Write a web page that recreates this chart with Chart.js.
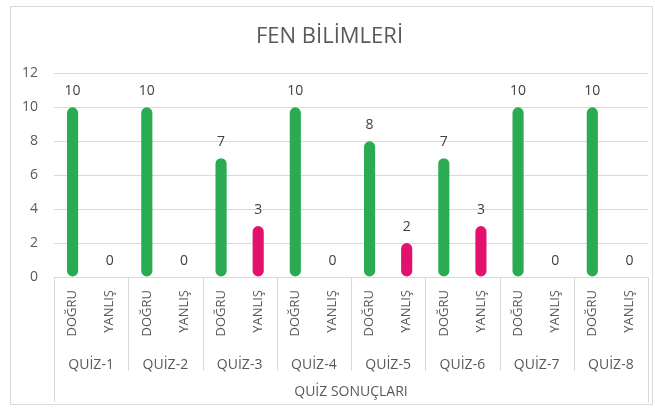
<!DOCTYPE html>
<html>
<head>
<meta charset="utf-8">
<script src="https://cdn.jsdelivr.net/npm/chart.js@4.4.1/dist/chart.umd.min.js"></script>
<style>
  html, body { margin: 0; padding: 0; background: #fff; }
  #wrap {
    position: absolute; left: 10px; top: 6px;
    width: 641px; height: 397px;
    border: 1px solid #d9d9d9;
  }
</style>
</head>
<body>
<div id="wrap"><canvas id="chart"></canvas></div>
<script>
// --- veriler ---
const quizzes = ['QUİZ-1', 'QUİZ-2', 'QUİZ-3', 'QUİZ-4', 'QUİZ-5', 'QUİZ-6', 'QUİZ-7', 'QUİZ-8'];
const answerTypes = ['DOĞRU', 'YANLIŞ'];
const dogru = [10, 10, 7, 10, 8, 7, 10, 10];
const yanlis = [0, 0, 3, 0, 2, 3, 0, 0];
const yTicks = [0, 2, 4, 6, 8, 10, 12];

const GREEN = '#2aab52';
const PINK = '#e3106d';
const TXT = '#595959';
const GRID = '#d9d9d9';
const FONT = 'Open Sans';

// doğru / yanlış sırayla
const labels = [];
const values = [];
const colors = [];
quizzes.forEach((q, i) => {
  labels.push(answerTypes[0]); values.push(dogru[i]); colors.push(GREEN);
  labels.push(answerTypes[1]); values.push(yanlis[i]); colors.push(PINK);
});

// değer etiketleri
const valueLabels = {
  id: 'valueLabels',
  afterDatasetsDraw(chart) {
    const ctx = chart.ctx;
    const meta = chart.getDatasetMeta(0);
    ctx.save();
    ctx.font = '14px "' + FONT + '"';
    ctx.fillStyle = '#404040';
    ctx.textAlign = 'center';
    ctx.textBaseline = 'middle';
    meta.data.forEach((bar, i) => {
      ctx.fillText(values[i], bar.x, bar.y - 16);
    });
    ctx.restore();
  }
};

// grup ayırıcı çizgiler
const groupLines = {
  id: 'groupLines',
  afterDraw(chart) {
    const ctx = chart.ctx;
    const x2 = chart.scales.x2;
    const top = chart.chartArea.bottom;
    const midBottom = x2.bottom - 31;
    ctx.save();
    ctx.strokeStyle = GRID;
    ctx.lineWidth = 1;
    for (let i = 0; i <= quizzes.length; i++) {
      let px;
      if (i === 0) px = x2.left;
      else if (i === quizzes.length) px = x2.right;
      else px = (x2.getPixelForValue(i - 1) + x2.getPixelForValue(i)) / 2;
      px = Math.round(px) + 0.5;
      const bottom = (i === 0 || i === quizzes.length) ? x2.bottom : midBottom;
      ctx.beginPath();
      ctx.moveTo(px, top);
      ctx.lineTo(px, bottom);
      ctx.stroke();
    }
    ctx.restore();
  }
};

new Chart(document.getElementById('chart'), {
  type: 'bar',
  data: {
    labels: labels,
    datasets: [{
      data: values,
      backgroundColor: colors,
      borderRadius: 6,
      borderSkipped: false,
      barPercentage: 0.3,
      categoryPercentage: 1
    }]
  },
  options: {
    responsive: true,
    maintainAspectRatio: false,
    animation: false,
    layout: { padding: { left: 0, right: 4, bottom: 2 } },
    plugins: {
      legend: { display: false },
      tooltip: { enabled: false },
      title: {
        display: true,
        text: 'FEN BİLİMLERİ',
        color: TXT,
        font: { family: FONT, size: 22, weight: 'normal' },
        padding: { top: 17, bottom: 23 }
      }
    },
    scales: {
      y: {
        min: 0,
        max: 12,
        afterBuildTicks(scale) { scale.ticks = yTicks.map(v => ({ value: v })); },
        afterFit(scale) { scale.width = 43; },
        grid: { color: GRID, drawTicks: false },
        border: { display: false },
        ticks: {
          color: TXT,
          padding: 16,
          font: { family: FONT, size: 14 }
        }
      },
      x: {
        weight: 0,
        afterFit(scale) { scale.height = 70; },
        grid: { display: false },
        border: { display: false },
        ticks: {
          color: TXT,
          minRotation: 90,
          maxRotation: 90,
          padding: 5,
          font: { family: FONT, size: 13 }
        }
      },
      x2: {
        type: 'category',
        labels: quizzes,
        position: 'bottom',
        offset: true,
        weight: 1,
        afterFit(scale) { scale.height = 55; },
        grid: { display: false },
        border: { display: false },
        ticks: {
          color: TXT,
          padding: 2,
          font: { family: FONT, size: 14 }
        },
        title: {
          display: true,
          text: 'QUİZ SONUÇLARI',
          color: TXT,
          font: { family: FONT, size: 14 },
          padding: { top: 10, bottom: 2 }
        }
      }
    }
  },
  plugins: [valueLabels, groupLines]
});
</script>
</body>
</html>
